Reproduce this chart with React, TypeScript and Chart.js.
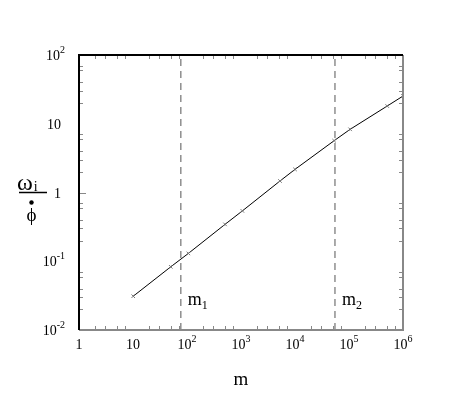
import React, { useEffect, useRef } from "react";
import { Chart, registerables } from "chart.js";

Chart.register(...registerables);

// ---- data ----
const mValues = [10.1, 50, 106, 506, 1060, 5275, 10000, 53000, 105000, 510000, 1000000];
const ratioValues = [0.031, 0.083, 0.13, 0.344, 0.54, 1.47, 2.17, 5.67, 8.3, 18.1, 25.3];

const markerM = [77, 55000];
const markerSubs = ["1", "2"];

const xTickValues = [1, 10, 100, 1000, 10000, 100000, 1000000];
const xTickLabels = ["1", "10", "10^2", "10^3", "10^4", "10^5", "10^6"];
const yTickValues = [0.01, 0.1, 1, 10, 100];
const yTickLabels = ["10^-2", "10^-1", "1", "10", "10^2"];

const xMinorFactors = [2, 3, 5, 7];
const yMinorFactors = [2, 3, 4, 6, 7];

const xTitle = "m";
const yTitleNum = "ω";
const yTitleSub = "i";
const yTitleDen = "ϕ";

const SERIF = '"Liberation Serif", "Times New Roman", serif';

function splitLabel(s: string): [string, string] {
  const i = s.indexOf("^");
  if (i < 0) return [s, ""];
  return [s.slice(0, i), s.slice(i + 1)];
}

const customDraw = {
  id: "customDraw",
  afterDraw(chart: any) {
    const ctx = chart.ctx as CanvasRenderingContext2D;
    const { left, right, top, bottom } = chart.chartArea;
    const xs = chart.scales.x;
    const ys = chart.scales.y;
    ctx.save();

    // minor ticks (inside)
    ctx.strokeStyle = "#888";
    ctx.lineWidth = 1;
    ctx.beginPath();
    for (let d = 1; d < 1e6; d *= 10) {
      for (const f of xMinorFactors) {
        const px = Math.round(xs.getPixelForValue(d * f)) + 0.5;
        ctx.moveTo(px, bottom);
        ctx.lineTo(px, bottom - 4);
        ctx.moveTo(px, top);
        ctx.lineTo(px, top + 4);
      }
    }
    for (let d = 0.01; d < 99; d *= 10) {
      for (const f of yMinorFactors) {
        const py = Math.round(ys.getPixelForValue(d * f)) + 0.5;
        ctx.moveTo(left, py);
        ctx.lineTo(left + 4, py);
        ctx.moveTo(right, py);
        ctx.lineTo(right - 4, py);
      }
    }
    ctx.stroke();
    ctx.beginPath();
    const p1 = Math.round(ys.getPixelForValue(1)) + 0.5;
    ctx.moveTo(left, p1);
    ctx.lineTo(left + 7, p1);
    ctx.stroke();

    // frame
    ctx.lineWidth = 2;
    ctx.strokeStyle = "#888";
    ctx.beginPath();
    ctx.moveTo(left, bottom);
    ctx.lineTo(right, bottom);
    ctx.lineTo(right, top);
    ctx.stroke();
    ctx.strokeStyle = "#000";
    ctx.beginPath();
    ctx.moveTo(right, top);
    ctx.lineTo(left, top);
    ctx.lineTo(left, bottom);
    ctx.stroke();

    ctx.fillStyle = "#000";
    const BF = `14px ${SERIF}`;
    const SF = `10px ${SERIF}`;
    // x tick labels
    xTickValues.forEach((v, i) => {
      const [b, e] = splitLabel(xTickLabels[i]);
      const px = xs.getPixelForValue(v);
      ctx.font = BF;
      const wb = ctx.measureText(b).width;
      ctx.font = SF;
      const we = e ? ctx.measureText(e).width : 0;
      const x0 = px - (wb + we) / 2;
      ctx.textBaseline = "alphabetic";
      ctx.textAlign = "left";
      ctx.font = BF;
      ctx.fillText(b, x0, 349);
      if (e) {
        ctx.font = SF;
        ctx.fillText(e, x0 + wb, 342);
      }
    });
    // y tick labels
    yTickValues.forEach((v, i) => {
      const [b, e] = splitLabel(yTickLabels[i]);
      const py = ys.getPixelForValue(v);
      ctx.font = BF;
      const wb = ctx.measureText(b).width;
      ctx.font = SF;
      const we = e ? ctx.measureText(e).width : 0;
      const xr = e ? 65 : 61;
      const x0 = xr - wb - we;
      ctx.textAlign = "left";
      ctx.textBaseline = "alphabetic";
      ctx.font = BF;
      ctx.fillText(b, x0, py + 5);
      if (e) {
        ctx.font = SF;
        ctx.fillText(e, x0 + wb, py - 2);
      }
    });

    // marker labels
    markerM.forEach((m, i) => {
      const px = xs.getPixelForValue(m);
      ctx.textAlign = "left";
      ctx.textBaseline = "alphabetic";
      ctx.font = `18px ${SERIF}`;
      ctx.fillText("m", px + 7, 305);
      const w = ctx.measureText("m").width;
      ctx.font = `12px ${SERIF}`;
      ctx.fillText(markerSubs[i], px + 7 + w, 309);
    });

    // x title
    ctx.font = `19px ${SERIF}`;
    ctx.textAlign = "center";
    ctx.textBaseline = "alphabetic";
    ctx.fillText(xTitle, (left + right) / 2, 385);

    // y title (fraction)
    ctx.textAlign = "left";
    ctx.font = `24px ${SERIF}`;
    ctx.fillText(yTitleNum, 17, 190);
    const wn = ctx.measureText(yTitleNum).width;
    ctx.font = `14px ${SERIF}`;
    ctx.fillText(yTitleSub, 17 + wn + 1, 191);
    ctx.lineWidth = 1.5;
    ctx.strokeStyle = "#000";
    ctx.beginPath();
    ctx.moveTo(19, 192.5);
    ctx.lineTo(47, 192.5);
    ctx.stroke();
    ctx.font = `19px ${SERIF}`;
    ctx.textAlign = "center";
    ctx.fillText(yTitleDen, 31.5, 221);
    ctx.beginPath();
    ctx.arc(31.5, 202.5, 2.2, 0, Math.PI * 2);
    ctx.fill();

    ctx.restore();
  },
};

export default function App() {
  const ref = useRef<HTMLCanvasElement | null>(null);
  useEffect(() => {
    if (!ref.current) return;
    const mainData = mValues.map((m, i) => ({ x: m, y: ratioValues[i] }));
    const markerSets = markerM.map((m) => ({
      data: [
        { x: m, y: yTickValues[0] },
        { x: m, y: yTickValues[yTickValues.length - 1] },
      ],
      showLine: true,
      borderColor: "#555",
      borderWidth: 1,
      borderDash: [7, 5],
      pointRadius: 0,
    }));
    const chart = new Chart(ref.current, {
      type: "scatter",
      data: {
        datasets: [
          ...markerSets,
          {
            data: mainData,
            showLine: true,
            borderColor: "#000",
            borderWidth: 1,
            pointStyle: "crossRot",
            pointRadius: 2.5,
            pointBorderColor: "#777",
            pointBorderWidth: 1,
            pointBackgroundColor: "#777",
          },
        ],
      } as any,
      options: {
        responsive: false,
        animation: false,
        layout: { padding: { left: 79, top: 55, right: 54, bottom: 71 } },
        plugins: { legend: { display: false }, tooltip: { enabled: false } },
        scales: {
          x: { type: "logarithmic", min: 1, max: 1e6, display: false },
          y: { type: "logarithmic", min: 0.01, max: 100, display: false },
        },
      },
      plugins: [customDraw],
    });
    return () => chart.destroy();
  }, []);
  return (
    <div style={{ position: "fixed", left: 0, top: 0, width: 457, height: 401, background: "#fff" }}>
      <canvas ref={ref} width={457} height={401} style={{ width: 457, height: 401 }} />
    </div>
  );
}
